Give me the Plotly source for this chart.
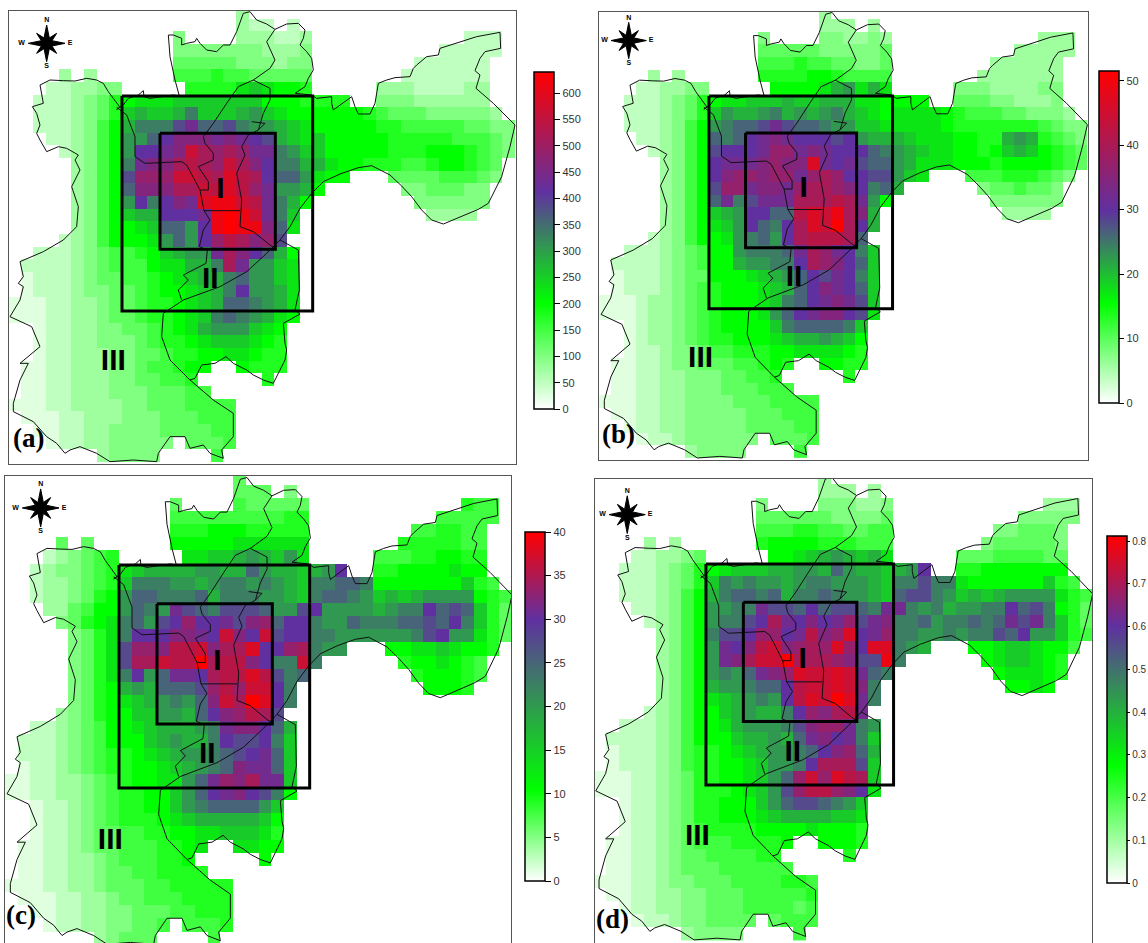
import numpy as np
import plotly.graph_objects as go

# Grid readings: one letter per cell, a=white, i=pure green, q=purple, z=red, .=no data
# every row: west(9 cols) centre(15 cols) east(16 cols)
CODES_A = [
". .........d..... .",
". .........dcc.c. .",
". ....e....dddccd ............ccc.",
". ....eeeeeeeddde ..........ccccc.",
". ....fffffeeedee ........cccccc..",
"....d.d.. ....ggghggfffff .......ccccccc..",
"...ccddee .....hhhhjkjiih .....dddccccdd..",
"..cccdefh ijjjkkkkkkkiiih hhh..eeedddddd..",
"..cccdefh klkklnkkklmkjii iiiihgfffeeeeed.",
"..cccdegi lnnnproopnmmlkj iiiiihhgggggffee",
"...ccdegi mmoqsssrsrqplkj kiiiiihhhhhgggfe",
"....cdegi mqqrswututrrnmk kiiiiihhhiiihgfe",
".....degi nrssuvutwusqnnl ljiihhhgghiihgf.",
".....degi ptttwwvuxvuqoom jii...ffffgggfe.",
".....degi osssuuwvxvtrmml i......eefffee..",
".....degi mqnqsrxyywvrnli ........eeeeee..",
".....degi kllqqqryzywrnk. .........dddd...",
".....degi ijkoomqyzyysoj. .",
"....cdegi iijmomqtvustp.. .",
"..cccdefg ghiklmmrusqoli. .",
".ccccdefg ggijjllnurmmkj. .",
".bcccdeff gghijkllnommkj. .",
".bcccdeef fghiijklnqmmlj. .",
"bbbccddef fghhijkloonmlj. .",
"bbbccddef fghhijknonmlji. .",
"..bccddee ffghijlmmmkji.. .",
"..bccddee efghhijkkkjih.. .",
"..bccddde effghhiijjihh.. .",
".bbccddde efgghii..ihhh.. .",
".bbccddde effggh.....h... .",
".bbccddde eefffgg........ .",
"bbbccdddd eefffgggg...... .",
".bbbccddd eeefffggg...... .",
"..bbccdde eeeffffgg...... .",
"...bccdde eeee.fffg...... .",
".......de eee....g....... .",
]
CODES_B = [
". .........d..... .",
". .........ddd.d. .",
". ....e....eedded ............ddd.",
". ....fffffeeeeef ..........ddddd.",
". ....ggghggffeef ........dddddd..",
"....d.d.. ....hhhhiihgggg .......ddddddd..",
"...ccddee .....iiiijlmjlj .....eeeddddee..",
"..cccdefh ijjkkklkkllljji iii..fffeeddde..",
"..cccdefh kmllmnlmlmnlkji jjjjihgggffeeed.",
"..cccdegi mnooprpoonmmkkj jjjjihhhhhhhgfee",
"...ccdegi onoqrsrqqqpqmll lkjjjiihhlmlhgfe",
"....cdegi pqqqrttrsrqqqon mlkjjiihiklkihgf",
".....degi qrrrstssxrqrpoo mljjjiiihiiiihgf",
".....degi qsttsttrtutqqpp mkj...ggghhhgfe.",
".....degi pttrssrtuutsqno l......effgffe..",
".....degi ornprrruuuvurmi ........eeeeee..",
".....degi klmqqoovxwyusl. .........dddd...",
".....degi jkmqonquxwzuql. .",
"....cdegi ijmnomquvvvuo.. .",
"..cccdefg iimnnnorutrqnk. .",
".ccccdefg iilmmnnqutsqok. .",
".bcccdeff iiijklmoqprqnk. .",
".bcccdefg hiiijkloqsrqok. .",
"bbbcddefg hiiijknoqrsrpk. .",
"bbbcddefg hiiijmoqrssqpj. .",
"..bcddefg hiiiiknoooonk.. .",
"..bcddefg hhiiijkllmlki.. .",
"..bccdeef gghhhiijjjjih.. .",
".bbccdeef ffgghih..iihh.. .",
".bbccddee effggh.....h... .",
".bbccddee efffggg........ .",
"bbbccddee eefffgggg...... .",
".bbccddee eeefffggg...... .",
"..bccddee eeeffffgg...... .",
"...bccdee eeee.fffg...... .",
".......de eee....g....... .",
]
CODES_C = [
". .........f..... .",
". .........fff.e. .",
". ....f....gfffff ............hgg.",
". ....ggggggggghh ..........ggggg.",
". ....hhhiiihhhhh ........gghhgg..",
"....f.f.. ....iiiiijjjjjj .......hhhhhgg..",
"...cdefgh .....jjkklmlkmj .....ggghhiihh..",
"..cdeefgh jkllllmmllomllk lmq..hhiiiijii..",
"..cddefgh knnnmmlmnnmnmlk nnooniiiiiiikhg.",
"..cddefhi moonnnolnnnmmlk noonmklklmmmmihg",
"...ddfgii monmrponpppommp qmmmmlmnnqopokhf",
"....efhij nompqtqqrpstoqq nmmonnnoopoqnkhf",
".....efhj nqqqssrqwsqwpqq nnmmmmmmnpqmmjhf",
".....efhj pttsvvwsuuxqqtu nmm...iijjkjiih.",
".....efhj puuwvvzuvvsqnnw n......hiijihg..",
".....efhj nqmorrquvvxvpno ........hiiihg..",
".....efhi lmloooptvtwwqn. .........iiih...",
".....efhi jklmnmoswuzxqn. .",
"....defhi ikkmmloqstvup.. .",
"..ccdefgi ijklllmnrssqol. .",
".cccdefgi iiklmllnqppqnk. .",
".cccdefgh hijklmmnopqrok. .",
".bccdefgh hiijklmnosrrok. .",
"bbccddefg hiijjmortsurrk. .",
"bbccddefg hhiikmoqrsqpni. .",
"..bccdefg hhiikmnoooomk.. .",
"..bccdefg hhhijklllllki.. .",
"..bccdeff gghhiijjkkkjh.. .",
".bbccdeff ggghhij..jjii.. .",
".bbccddef ggghhi.....i... .",
".bbccddef fgghhhh........ .",
"bbbccddef ffgghhhhh...... .",
".bbbccdde ffggghhhh...... .",
"..bbccdde efffgghhh...... .",
"...bccdde effg.gggh...... .",
".......de fff....g....... .",
]
CODES_D = [
". .........d..... .",
". .........ddd.d. .",
". ....e....eeedde ............ddd.",
". ....ffffffeeeef ..........eeeee.",
". ....ggghhggffgg ........eefffe..",
"....d.d.. ....hiiiihhhggg .......efffffe..",
"...ccddef .....iijklmlklj .....fffggggff..",
"..cccdefh ijkkkllmmlomllk lmq..hhiiiiiii..",
"..cccdefh knmnmmlmnnmmmlk nnpnnjiiiiiikhg.",
"..cccdegi lnoonolnnonmmlk oppnmklklmmmmjhg",
"...ccdegi mmnnrppoqopponr rnmnlmmnnqopnihf",
"....cdegi mnnpqurqsqrtprs nnomnnonorprnkhf",
".....degi nppqttqrvstxqrt nnmmnmnnpoqmmkhg",
".....degi mrqsvwstutxtqxx nml...iijkkjiig.",
".....degi mrsuwwzuuutsppy n......ijkkjih..",
".....degi mnmorstxwwxwron ........ijjjih..",
".....degi lmmnooqvwwxwsn. .........iiji...",
".....degi jklmnmqvxwzxrn. .",
"....cdegi iklmllnqtsuvr.. .",
"..cccdegi ijlmmmnpsttrnm. .",
".ccccdegi iikllmlorsqrnk. .",
".bcccdegh hijklmmnoqstol. .",
".bcccdegh hiijkmmnquuupk. .",
"bbbccdefh hiijkmotwtxvuk. .",
"bbbccdefh hhijkmptvvtsqj. .",
"..bccdefh hiiikmopponmk.. .",
"..bccdefh hiiijkllllkkj.. .",
"..bccdefg hhhhiiiijiiih.. .",
".bbccdefg gghhhhi..iiih.. .",
".bbccdeff gggghh.....h... .",
".bbccdeff fgggggg........ .",
"bbbccdeef ffgggghhg...... .",
".bbccddee fffgggggh...... .",
"..bccddee fffggggfg...... .",
"...bccdee ffff.fggg...... .",
".......de eee....g....... .",
]

# Colour bars: top of scale, position of pure green and purple, ticks
ZMAX = [640, 51.5, 40, 0.812]
GREEN_AT = [0.315, 0.30, 0.26, 0.34]
PURPLE_AT = [0.644, 0.58, 0.75, 0.74]
TICKS = [
    [0, 50, 100, 150, 200, 250, 300, 350, 400, 450, 500, 550, 600],
    [0, 10, 20, 30, 40, 50],
    [0, 5, 10, 15, 20, 25, 30, 35, 40],
    [0, 0.1, 0.2, 0.3, 0.4, 0.5, 0.6, 0.7, 0.8],
]
TICK_TEXT = [
    [str(v) for v in TICKS[0]],
    [str(v) for v in TICKS[1]],
    [str(v) for v in TICKS[2]],
    ["0", "0.1", "0.2", "0.3", "0.4", "0.5", "0.6", "0.7", "0.8"],
]
TICK_LEN = [6, 5, 6, 3]
TICK_SIZE = [11, 11, 11, 10]

# Region outlines, map units
OUTLINE_MAIN = [(120,255),(150,240),(190,242),(225,243),(260,235),(290,240),(310,250),(325,275),(340,295),(360,322),(350,328),(370,315),(385,295),(415,285),(430,272),(432,290),(450,295),(490,290),(520,285),(538,288),(525,240),(510,170),(505,105),(520,105),(545,115),(545,135),(560,130),(585,125),(590,115),(600,130),(620,150),(650,155),(670,135),(690,135),(710,95),(730,40),(750,35),(770,60),(800,72),(825,88),(860,72),(895,70),(915,90),(910,115),(900,135),(920,155),(935,175),(940,210),(925,235),(915,260),(885,280),(935,285),(950,295),(995,290),(995,310),(1000,330),(1055,290),(1065,320),(1075,342),(1110,342),(1125,310),(1135,250),(1160,240),(1185,233),(1230,230),(1240,205),(1250,195),(1280,170),(1315,165),(1320,145),(1385,125),(1430,110),(1500,97),(1502,145),(1455,155),(1440,175),(1425,212),(1440,225),(1428,265),(1480,310),(1545,375),(1530,440),(1505,530),(1465,610),(1435,628),(1330,672),(1295,660),(1265,630),(1235,590),(1205,558),(1170,525),(1115,497),(1075,503),(1020,522),(970,545),(935,580),(900,625),(870,680),(840,720),(800,760),(740,815),(660,860),(550,900),(490,940),(485,1010),(510,1080),(570,1140),(640,1200),(700,1240),(700,1310),(665,1350),(670,1375),(630,1360),(610,1335),(570,1345),(555,1310),(510,1310),(475,1360),(470,1385),(400,1380),(330,1385),(290,1360),(240,1340),(210,1350),(195,1360),(170,1330),(140,1310),(100,1265),(40,1235),(40,1210),(60,1140),(85,1090),(60,1090),(120,1040),(95,980),(30,950),(60,900),(70,860),(55,850),(70,830),(60,785),(130,755),(190,720),(215,695),(230,680),(235,620),(215,560),(240,510),(225,480),(235,465),(200,445),(175,440),(140,455),(120,420),(110,400),(120,375),(110,340),(97,320),(130,310),(120,255)]
OUTLINE_SOUTH = [(840,720),(895,750),(898,870),(885,930),(900,942),(850,970),(855,1030),(860,1050),(855,1080),(830,1130),(820,1150),(790,1140),(760,1125),(740,1110),(700,1090),(678,1070),(645,1090),(605,1095),(585,1135),(570,1140)]
DISTRICT_1 = [(825,88),(800,125),(825,180),(810,205),(760,240),(715,260),(680,310),(640,370),(610,410),(615,430),(640,460),(640,480),(595,500),(625,545),(625,570),(600,570),(560,495),(545,485),(435,490),(405,470),(405,410),(380,345),(350,322)]
DISTRICT_2 = [(760,240),(810,265),(810,300),(790,340),(775,390),(745,405),(725,440),(735,465),(710,520),(725,600),(720,680),(760,695),(810,735),(830,748)]
DISTRICT_3 = [(755,365),(795,370),(775,390)]
DISTRICT_4 = [(600,570),(612,632),(720,632)]
DISTRICT_5 = [(612,632),(630,660),(610,690),(598,740),(622,750),(618,790),(550,825),(565,840),(535,870),(545,900)]
OUTLINES = [OUTLINE_MAIN, OUTLINE_SOUTH, DISTRICT_1, DISTRICT_2, DISTRICT_3, DISTRICT_4, DISTRICT_5]

BOX_OUTER = [(366,288),(938,288),(938,933),(366,933),(366,288)]
BOX_INNER = [(480,400),(826,400),(826,748),(480,748),(480,400)]
ZONE_TEXT = ["I", "II", "III"]
ZONE_X = [661, 631, 340]
ZONE_Y = [570, 840, 1087]

COMPASS_X = [0,8,30,16,55,16,30,8,0,-8,-30,-16,-55,-16,-30,-8,0]
COMPASS_Y = [-55,-16,-30,-8,0,8,30,16,55,16,30,8,0,-8,-30,-16,-55]
COMPASS_TEXT = ["N", "E", "S", "W"]
COMPASS_TX = [0, 70, 0, -75]
COMPASS_TY = [-68, 0, 68, 0]
COMPASS_CENTRE = [(140,130), (116,120), (131,123), (126,144)]

PANEL_NAMES = ["(a)", "(b)", "(c)", "(d)"]

# Layout, pixels: frame L,R,T,B; map range; colour bar L,T,B; tag position
W, H = 1148, 943
FRAME = [(9,516,11,464), (599,1088,12,460), (5,511,476,943), (595,1092,479,943)]
RANGE_X = [(27,1548), (23.4,1547), (24,1542), (27.7,1543)]
RANGE_Y = [(1392,33), (1391,33.5), (1381.6,30.6), (1394,40)]
BAR = [(534,72,409), (1099,71,403), (525,532,881), (1107,536,883)]
TAG = [(11,438), (600,434), (4,915), (594,919)]

CODE_RAMP = "abcdefghijklmnopqrstuvwxyz"
WHITE, GREEN, PURPLE, RED = "rgb(255,255,255)", "rgb(0,255,0)", "rgb(96,48,160)", "rgb(255,0,0)"
FONT = "Liberation Sans"


def read_grid(rows, top, g, p):
    out = []
    for row in rows:
        w, c, e = row.split(" ")
        s = w.ljust(9, ".")[:9] + c.ljust(15, ".")[:15] + e.ljust(16, ".")[:16]
        vals = []
        for ch in s:
            if ch == ".":
                vals.append(None)
            else:
                vals.append(float(np.interp(CODE_RAMP.index(ch), [0, 8, 16, 25], [0, g, p, 1])) * top)
        out.append(vals)
    return out


fig = go.Figure()
grids = [CODES_A, CODES_B, CODES_C, CODES_D]
layout = {}
for i in range(4):
    sfx = "" if i == 0 else str(i + 1)
    xa, ya = "x" + sfx, "y" + sfx
    L, R, T, B = FRAME[i]
    closed = i < 2
    layout["xaxis" + sfx] = dict(domain=[L / W, R / W], range=list(RANGE_X[i]), anchor=ya,
                                 showgrid=False, zeroline=False, ticks="", showticklabels=False,
                                 showline=True, linecolor="#555555", linewidth=1,
                                 mirror=closed, side="bottom" if closed else "top")
    layout["yaxis" + sfx] = dict(domain=[1 - B / H, 1 - T / H], range=list(RANGE_Y[i]), anchor=xa,
                                 showgrid=False, zeroline=False, ticks="", showticklabels=False,
                                 showline=True, linecolor="#555555", linewidth=1, mirror=True)
    g, p = GREEN_AT[i], PURPLE_AT[i]
    bl, bt, bb = BAR[i]
    fig.add_trace(go.Heatmap(
        z=read_grid(grids[i], ZMAX[i], g, p), x0=43, dx=38, y0=37, dy=38,
        zmin=0, zmax=ZMAX[i], zsmooth=False, hoverinfo="skip", xaxis=xa, yaxis=ya,
        colorscale=[[0, WHITE], [g, GREEN], [p, PURPLE], [1, RED]],
        colorbar=dict(x=bl / W, xanchor="left", xpad=0, ypad=0, thickness=20, thicknessmode="pixels",
                      y=1 - (bt + bb) / 2 / H, yanchor="middle", len=(bb - bt) / H, lenmode="fraction",
                      outlinecolor="black", outlinewidth=1.5, ticks="outside", ticklen=TICK_LEN[i], tickwidth=1,
                      tickcolor="black", tickvals=TICKS[i], ticktext=TICK_TEXT[i],
                      tickfont=dict(family=FONT, size=TICK_SIZE[i], color="#333333")),
    ))
    for line in OUTLINES:
        fig.add_trace(go.Scatter(x=[q[0] for q in line], y=[q[1] for q in line], mode="lines",
                                 line=dict(color="#111111", width=1), hoverinfo="skip",
                                 showlegend=False, xaxis=xa, yaxis=ya))
    for box in (BOX_OUTER, BOX_INNER):
        fig.add_trace(go.Scatter(x=[q[0] for q in box], y=[q[1] for q in box], mode="lines",
                                 line=dict(color="black", width=3), hoverinfo="skip",
                                 showlegend=False, xaxis=xa, yaxis=ya))
    fig.add_trace(go.Scatter(x=ZONE_X, y=ZONE_Y, mode="text", text=["<b>%s</b>" % t for t in ZONE_TEXT],
                             textposition="middle center", textfont=dict(family=FONT, size=30, color="black"),
                             hoverinfo="skip", showlegend=False, xaxis=xa, yaxis=ya))
    cx, cy = COMPASS_CENTRE[i]
    fig.add_trace(go.Scatter(x=[cx + v for v in COMPASS_X], y=[cy + v for v in COMPASS_Y], mode="lines",
                             fill="toself", fillcolor="black", line=dict(color="black", width=1),
                             hoverinfo="skip", showlegend=False, xaxis=xa, yaxis=ya))
    fig.add_trace(go.Scatter(x=[cx + v for v in COMPASS_TX], y=[cy + v for v in COMPASS_TY], mode="text",
                             text=["<b>%s</b>" % t for t in COMPASS_TEXT], textposition="middle center",
                             textfont=dict(family=FONT, size=7, color="black"),
                             hoverinfo="skip", showlegend=False, xaxis=xa, yaxis=ya))

annotations = [dict(text="<b>%s</b>" % PANEL_NAMES[i], xref="paper", yref="paper",
                    x=TAG[i][0] / W, y=1 - TAG[i][1] / H, xanchor="left", yanchor="middle",
                    showarrow=False, xshift=0, font=dict(family="Liberation Serif", size=27, color="black"))
               for i in range(4)]

fig.update_layout(width=W, height=H, margin=dict(l=0, r=0, t=0, b=0, pad=0, autoexpand=False),
                  paper_bgcolor="white", plot_bgcolor="white", showlegend=False,
                  annotations=annotations, **layout)

fig.write_html("out.html", config={"displayModeBar": False, "responsive": False},
               post_script="document.body.style.margin='0';document.documentElement.style.overflow='hidden';")
